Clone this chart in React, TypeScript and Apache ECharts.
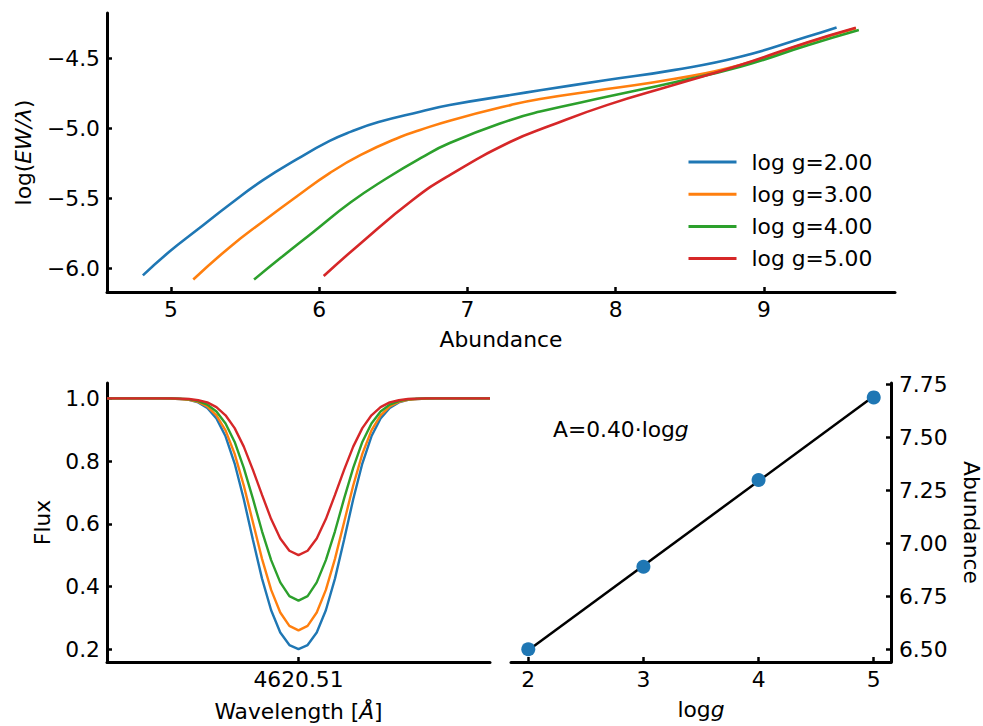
import React, { useEffect, useRef } from "react";
import * as echarts from "echarts";

const legendNames = ["log g=2.00", "log g=3.00", "log g=4.00", "log g=5.00"];
const colors = ["#1f77b4", "#ff7f0e", "#2ca02c", "#d62728"];

// Curve of growth (top panel)
const abundG2 = [4.81, 4.99, 5.17, 5.40, 5.62, 5.85, 6.07, 6.21, 6.40, 6.68, 6.88, 7.29, 7.49, 7.94, 8.39, 8.84, 9.29, 9.49];
const logEWG2 = [-6.05, -5.88, -5.73, -5.54, -5.37, -5.22, -5.09, -5.025, -4.955, -4.881, -4.833, -4.762, -4.728, -4.655, -4.584, -4.489, -4.346, -4.279];
const abundG3 = [5.15, 5.40, 5.62, 5.85, 6.07, 6.28, 6.55, 6.68, 6.88, 7.29, 7.49, 7.94, 8.39, 8.84, 9.29, 9.62];
const logEWG3 = [-6.08, -5.845, -5.665, -5.485, -5.32, -5.19, -5.06, -5.012, -4.945, -4.834, -4.79, -4.719, -4.648, -4.548, -4.39, -4.285];
const abundG4 = [5.56, 5.74, 5.96, 6.21, 6.45, 6.68, 6.88, 7.29, 7.49, 7.94, 8.39, 8.84, 9.29, 9.64];
const logEWG4 = [-6.08, -5.925, -5.74, -5.53, -5.36, -5.215, -5.105, -4.94, -4.88, -4.775, -4.672, -4.56, -4.408, -4.298];
const abundG5 = [6.03, 6.28, 6.63, 6.88, 7.29, 7.56, 7.94, 8.39, 8.84, 9.29, 9.62];
const logEWG5 = [-6.055, -5.82, -5.512, -5.334, -5.096, -4.98, -4.834, -4.691, -4.548, -4.386, -4.281];

// Line profiles (bottom-left), wavelength offsets from 4620.51 Å
const waveOffset = [
  -0.21, -0.2, -0.19, -0.18, -0.17, -0.16, -0.15, -0.14, -0.13, -0.12, -0.11, -0.1, -0.09, -0.08, -0.07, -0.06, -0.05, -0.04, -0.03, -0.02, -0.01,
  0,
  0.01, 0.02, 0.03, 0.04, 0.05, 0.06, 0.07, 0.08, 0.09, 0.1, 0.11, 0.12, 0.13, 0.14, 0.15, 0.16, 0.17, 0.18, 0.19, 0.2, 0.21,
];
const fluxG2 = [
  1, 1, 1, 1, 1, 1, 1, 0.999, 0.998, 0.995, 0.987, 0.969, 0.936, 0.879, 0.792, 0.678, 0.549, 0.425, 0.324, 0.253, 0.213,
  0.2,
  0.213, 0.253, 0.324, 0.425, 0.549, 0.678, 0.792, 0.879, 0.936, 0.969, 0.987, 0.995, 0.998, 0.999, 1, 1, 1, 1, 1, 1, 1,
];
const fluxG3 = [
  1, 1, 1, 1, 1, 1, 1, 0.999, 0.998, 0.995, 0.989, 0.974, 0.946, 0.898, 0.823, 0.722, 0.605, 0.488, 0.389, 0.317, 0.274,
  0.26,
  0.274, 0.317, 0.389, 0.488, 0.605, 0.722, 0.823, 0.898, 0.946, 0.974, 0.989, 0.995, 0.998, 0.999, 1, 1, 1, 1, 1, 1, 1,
];
const fluxG4 = [
  1, 1, 1, 1, 1, 1, 1, 1, 0.999, 0.997, 0.991, 0.98, 0.958, 0.92, 0.861, 0.778, 0.68, 0.576, 0.484, 0.413, 0.369,
  0.355,
  0.369, 0.413, 0.484, 0.576, 0.68, 0.778, 0.861, 0.92, 0.958, 0.98, 0.991, 0.997, 0.999, 1, 1, 1, 1, 1, 1, 1, 1,
];
const fluxG5 = [
  1, 1, 1, 1, 1, 1, 1, 1, 0.999, 0.998, 0.994, 0.987, 0.972, 0.946, 0.905, 0.846, 0.772, 0.692, 0.615, 0.553, 0.514,
  0.5,
  0.514, 0.553, 0.615, 0.692, 0.772, 0.846, 0.905, 0.946, 0.972, 0.987, 0.994, 0.998, 0.999, 1, 1, 1, 1, 1, 1, 1, 1,
];

// Abundance vs log g (bottom-right)
const loggValues = [2, 3, 4, 5];
const abundValues = [6.5, 6.89, 7.3, 7.69];
const fitLogg = [2, 5];
const fitAbund = [6.495, 7.695];

const topXTicks = [5, 6, 7, 8, 9];
const topYTicks = [-6, -5.5, -5, -4.5];
const fluxTicks = [0.2, 0.4, 0.6, 0.8, 1.0];
const waveTicks = [0];
const loggTicks = [2, 3, 4, 5];
const abundTicks = [6.5, 6.75, 7.0, 7.25, 7.5, 7.75];

const FONT = "DejaVu Sans";
const FS = 21.8;

const zip = (a: number[], b: number[]) => a.map((v, i) => [v, b[i]]);
const minus = (s: string) => s.replace("-", "\u2212");

const tick = (vals: number[]) => ({
  show: true,
  inside: true,
  length: 5,
  lineStyle: { color: "#000", width: 2.5 },
  customValues: vals,
});
const label = (vals: number[], fmt: (v: number) => string, margin = 7) => ({
  color: "#000",
  fontSize: FS,
  fontFamily: FONT,
  margin,
  customValues: vals,
  formatter: fmt,
});

function axisBase(extra: any) {
  return {
    type: "value",
    splitLine: { show: false },
    axisLine: { show: true, onZero: false, lineStyle: { color: "#000", width: 3 } },
    nameTextStyle: { color: "#000", fontSize: FS, fontFamily: FONT },
    ...extra,
  };
}

export default function App() {
  const ref = useRef<HTMLDivElement>(null);
  useEffect(() => {
    if (!ref.current) return;
    const chart = echarts.init(ref.current, null, { renderer: "svg" });
    const italic = { fontStyle: "italic", fontSize: FS, fontFamily: FONT, color: "#000" };
    const cogData = [zip(abundG2, logEWG2), zip(abundG3, logEWG3), zip(abundG4, logEWG4), zip(abundG5, logEWG5)];
    const fluxData = [fluxG2, fluxG3, fluxG4, fluxG5].map((f) => zip(waveOffset, f));

    const option: any = {
      animation: false,
      backgroundColor: "#fff",
      textStyle: { fontFamily: FONT },
      grid: [
        { left: 107, top: 13, width: 788, height: 279 },
        { left: 107, top: 383, width: 383, height: 279 },
        { left: 511, top: 383, width: 382, height: 279 },
      ],
      legend: {
        data: legendNames,
        orient: "vertical",
        left: 687,
        top: 151,
        padding: 0,
        itemWidth: 48,
        itemHeight: 22,
        itemGap: 10.2,
        itemStyle: { color: "rgba(0,0,0,0)", borderWidth: 0 },
        lineStyle: { width: 3 },
        textStyle: { color: "#000", fontSize: FS, fontFamily: FONT, lineHeight: 22, padding: [0, 0, 0, 10] },
        selectedMode: false,
      },
      xAxis: [
        axisBase({
          gridIndex: 0,
          min: 4.568,
          max: 9.884,
          name: "Abundance",
          nameLocation: "middle",
          nameGap: 36,
          axisTick: tick(topXTicks),
          axisLabel: label(topXTicks, (v: number) => String(v), 6),
        }),
        axisBase({
          gridIndex: 1,
          min: -0.21,
          max: 0.21,
          name: "Wavelength [{i|Å}]",
          nameLocation: "middle",
          nameGap: 38,
          nameTextStyle: { color: "#000", fontSize: FS, fontFamily: FONT, rich: { i: italic } },
          axisTick: tick(waveTicks),
          axisLabel: label(waveTicks, () => "4620.51", 6),
        }),
        axisBase({
          gridIndex: 2,
          min: 1.85,
          max: 5.15,
          name: "log{i|g}",
          nameLocation: "middle",
          nameGap: 36,
          nameTextStyle: { color: "#000", fontSize: FS, fontFamily: FONT, rich: { i: italic } },
          axisTick: tick(loggTicks),
          axisLabel: label(loggTicks, (v: number) => String(v), 6),
        }),
      ],
      yAxis: [
        axisBase({
          gridIndex: 0,
          min: -6.169,
          max: -4.176,
          name: "log({i|EW/λ})",
          nameLocation: "middle",
          nameRotate: 90,
          nameGap: 73,
          nameTextStyle: { color: "#000", fontSize: FS, fontFamily: FONT, rich: { i: italic } },
          axisTick: tick(topYTicks),
          axisLabel: label(topYTicks, (v: number) => minus(v.toFixed(1)), 7),
        }),
        axisBase({
          gridIndex: 1,
          min: 0.159,
          max: 1.049,
          name: "Flux",
          nameLocation: "middle",
          nameRotate: 90,
          nameGap: 54,
          axisTick: tick(fluxTicks),
          axisLabel: label(fluxTicks, (v: number) => v.toFixed(1), 7),
        }),
        axisBase({
          gridIndex: 2,
          position: "right",
          min: 6.44,
          max: 7.758,
          name: "Abundance",
          nameLocation: "middle",
          nameRotate: -90,
          nameGap: 69,
          axisTick: tick(abundTicks),
          axisLabel: label(abundTicks, (v: number) => v.toFixed(2), 8),
        }),
      ],
      series: [
        ...cogData.map((d, i) => ({
          name: legendNames[i],
          type: "line",
          xAxisIndex: 0,
          yAxisIndex: 0,
          data: d,
          showSymbol: false,
          symbol: "none",
          smooth: 0.5,
          lineStyle: { color: colors[i], width: 2.6 },
          itemStyle: { color: "rgba(0,0,0,0)" },
          z: 2 + i,
        })),
        ...fluxData.map((d, i) => ({
          name: "profile " + legendNames[i],
          type: "line",
          xAxisIndex: 1,
          yAxisIndex: 1,
          data: d,
          showSymbol: false,
          symbol: "none",
          lineStyle: { color: colors[i], width: 2.4 },
          z: 2 + i,
        })),
        {
          name: "fit",
          type: "line",
          xAxisIndex: 2,
          yAxisIndex: 2,
          data: zip(fitLogg, fitAbund),
          showSymbol: false,
          symbol: "none",
          lineStyle: { color: "#000", width: 2.5 },
          z: 2,
        },
        {
          name: "points",
          type: "scatter",
          xAxisIndex: 2,
          yAxisIndex: 2,
          data: zip(loggValues, abundValues),
          symbolSize: 14,
          itemStyle: { color: "#1f77b4", opacity: 1 },
          z: 5,
        },
      ],
      graphic: [
        {
          type: "text",
          left: 553,
          top: 418,
          style: {
            text: "A=0.40·log{i|g}",
            fill: "#000",
            fontSize: FS,
            fontFamily: FONT,
            rich: { i: { fontStyle: "italic", fontSize: FS, fontFamily: FONT, fill: "#000" } },
          },
        },
      ],
    };
    chart.setOption(option);
    return () => chart.dispose();
  }, []);
  return <div ref={ref} style={{ position: "absolute", left: 0, top: 0, width: 983, height: 726 }} />;
}
